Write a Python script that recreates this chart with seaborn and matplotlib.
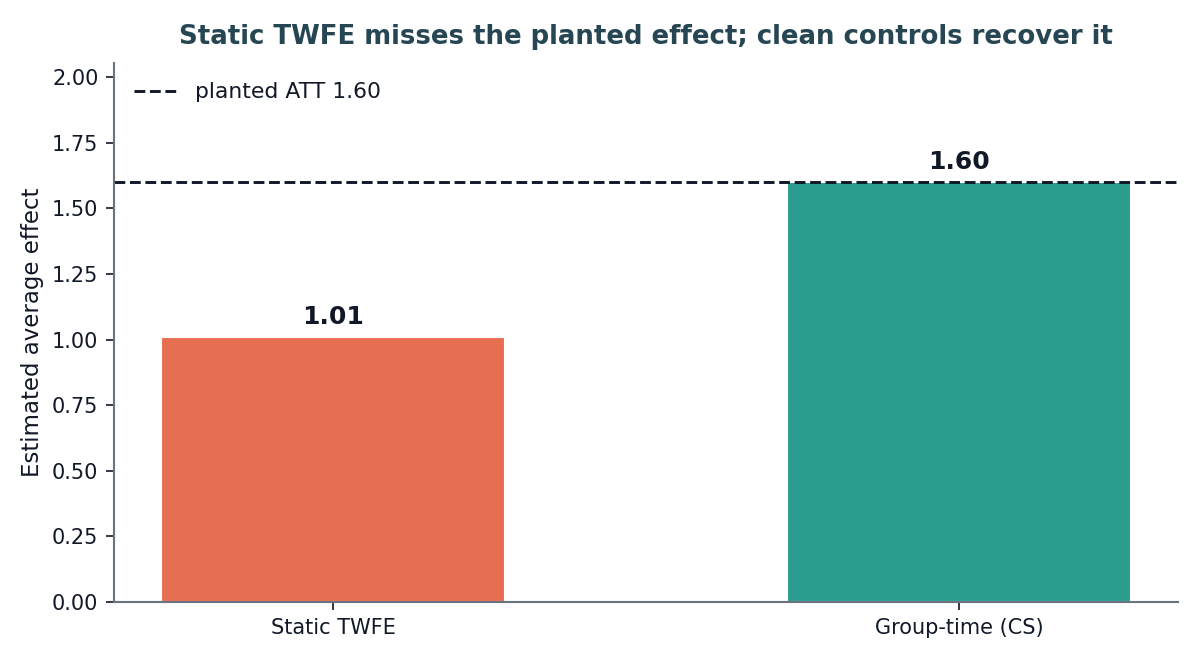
import matplotlib

matplotlib.use("Agg")

import matplotlib.pyplot as plt
import pandas as pd
import seaborn as sns

estimators = ["Static TWFE", "Group-time (CS)"]
estimates = [1.01, 1.60]
planted_att = 1.60
bar_colors = ["#E76F51", "#2A9D8F"]

TEXT = "#111827"
SPINE = "#6B7280"

sns.set_theme(style="white")
plt.rcParams["font.family"] = ["DejaVu Sans"]

frame = pd.DataFrame({"estimator": estimators, "estimate": estimates})

fig, ax = plt.subplots(figsize=(8, 4.4), dpi=150)
sns.barplot(
    data=frame,
    x="estimator",
    y="estimate",
    hue="estimator",
    palette=bar_colors,
    width=0.55,
    legend=False,
    saturation=1,
    ax=ax,
)
ax.axhline(planted_att, color=TEXT, linestyle="--", linewidth=1.4,
           label=f"planted ATT {planted_att:.2f}")

for i, v in enumerate(estimates):
    ax.text(i, v + 0.03, f"{v:.2f}", ha="center", va="bottom",
            fontsize=12, fontweight="bold", color=TEXT)

ax.set_xlim(-0.35, 1.35)
ax.set_ylim(0, 2.055)
ax.set_xlabel("")
ax.set_ylabel("Estimated average effect", fontsize=11, color=TEXT)
ax.set_title("Static TWFE misses the planted effect; clean controls recover it",
             fontsize=12.5, fontweight="bold", color="#264653", pad=9)
ax.tick_params(axis="both", labelsize=10, colors=TEXT, length=4, width=0.8,
               left=True, bottom=True)
for side in ("top", "right"):
    ax.spines[side].set_visible(False)
for side in ("left", "bottom"):
    ax.spines[side].set_color(SPINE)
    ax.spines[side].set_linewidth(1.0)

leg = ax.legend(loc="upper left", frameon=False, fontsize=10.5)
for t in leg.get_texts():
    t.set_color(TEXT)

fig.subplots_adjust(left=0.095, right=0.982, bottom=0.088, top=0.905)
fig.savefig("out.png", dpi=150)
